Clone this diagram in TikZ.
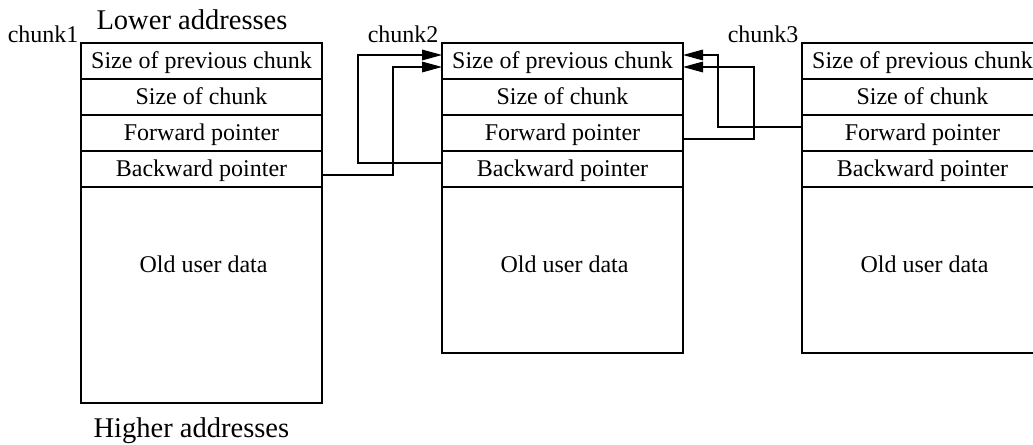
\documentclass[tikz,border=0pt]{standalone}
\usepackage{fontspec}
\setmainfont{Liberation Serif}
\usetikzlibrary{arrows.meta,calc}

\begin{document}
\begin{tikzpicture}[x=0.75pt,y=-0.75pt,
  line width=0.8pt,
  cell/.style={draw, minimum width=180.75pt, minimum height=27pt,
    inner sep=0pt, outer sep=0pt, text height=14pt, text depth=3.1pt,
    font=\fontsize{18}{20}\selectfont},
  body/.style={draw, minimum width=180.75pt, inner sep=0pt, outer sep=0pt},
  txt/.style={font=\fontsize{18}{20}\selectfont, inner sep=0pt},
  big/.style={font=\fontsize{21.4}{24}\selectfont, inner sep=0pt},
  ptr/.style={-{Triangle[length=15pt,width=8pt]}}]
\useasboundingbox (0,0) rectangle (1033,445);

% three free chunks, each a column of header fields over its data area
\foreach \c/\x/\h in {1/201.5/162pt, 2/562.5/124.5pt, 3/922.5/124.5pt} {
  \node[cell] (c\c prev) at (\x,61)  {Size of previous chunk};
  \node[cell] (c\c size) at (\x,97)  {Size of chunk};
  \node[cell] (c\c fwd)  at (\x,133) {Forward pointer};
  \node[cell] (c\c bwd)  at (\x,169) {Backward pointer};
  \node[body, minimum height=\h, anchor=north] (c\c data) at (c\c bwd.south) {};
  \node[txt, anchor=base] (c\c old) at (\x+2,273) {Old user data};
}

% chunk names
\node[txt, anchor=base east] (n1) at ($(c1prev.north west)+(-2,0)$) {chunk1};
\node[txt, anchor=base east] (n2) at ($(c2prev.north west)+(-3,0)$) {chunk2};
\node[txt, anchor=base east] (n3) at ($(c3prev.north west)+(-3,0)$) {chunk3};

% address direction
\node[big, anchor=base west] (lo) at (96,30)  {Lower addresses};
\node[big, anchor=base west] (hi) at (93,438) {Higher addresses};

% list links into chunk2
\coordinate (b1) at ($(c1bwd.east)+(0,6)$);
\coordinate (b2) at ($(c2bwd.west)+(0,-6)$);
\coordinate (f2) at ($(c2fwd.east)+(0,6)$);
\coordinate (f3) at ($(c3fwd.west)+(0,-6)$);
\coordinate (pl1) at ($(c2prev.west)+(0,-6)$);
\coordinate (pl2) at ($(c2prev.west)+(0,6)$);
\coordinate (pr1) at ($(c2prev.east)+(0,-6)$);
\coordinate (pr2) at ($(c2prev.east)+(0,6)$);

\draw[ptr] (b2) -| (358,55) -- (pl1);
\draw[ptr] (b1) -| (393,67) -- (pl2);
\draw[ptr] (f3) -| (718,55) -- (pr1);
\draw[ptr] (f2) -| (754,67) -- (pr2);
\end{tikzpicture}
\end{document}
